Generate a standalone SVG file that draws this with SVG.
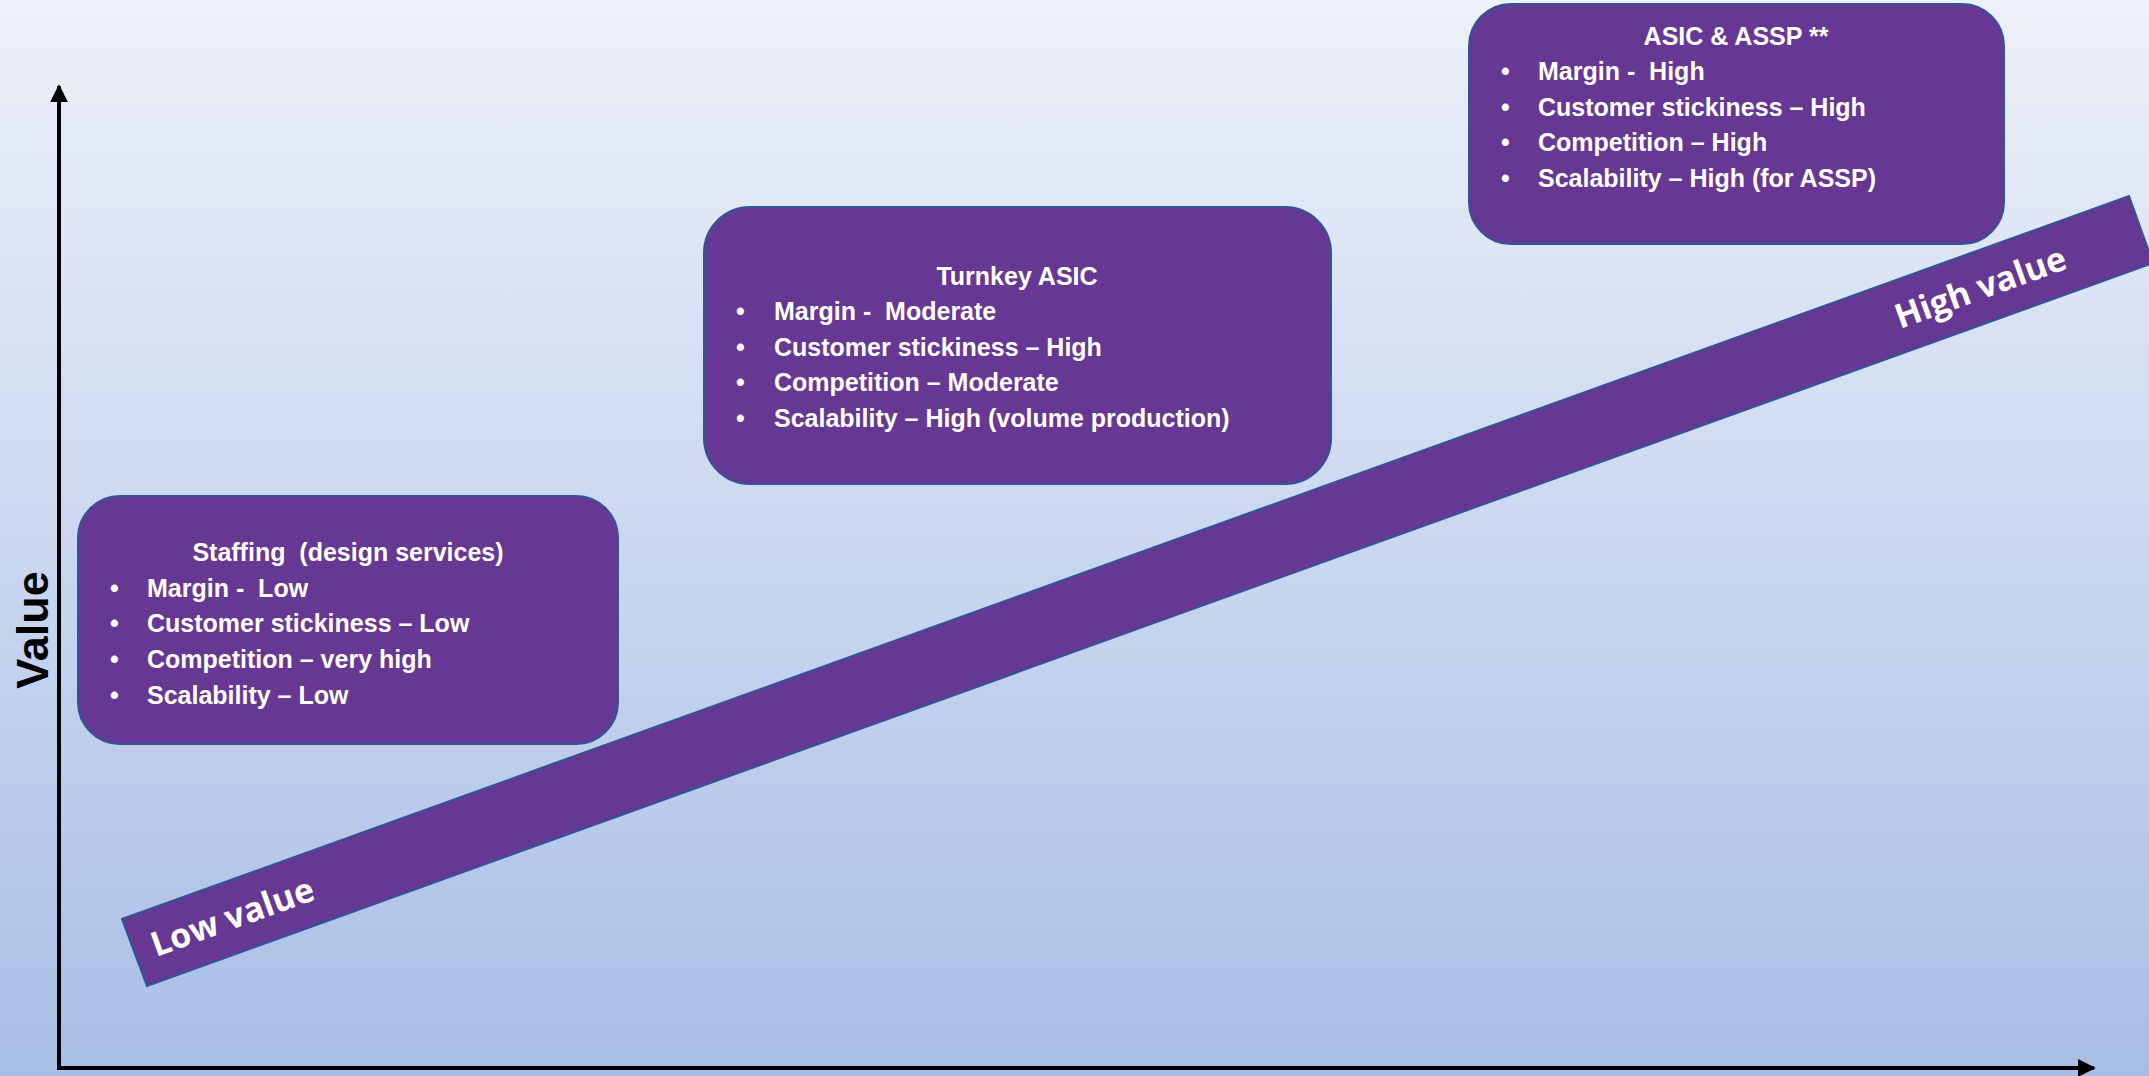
<svg xmlns="http://www.w3.org/2000/svg" width="2149" height="1076" viewBox="0 0 2149 1076">
<defs>
<linearGradient id="bg" x1="0" y1="0" x2="0" y2="1">
<stop offset="0" stop-color="#EDF1F9"/>
<stop offset="1" stop-color="#A9BEE6"/>
</linearGradient>
<marker id="arr" viewBox="0 0 10 10" refX="9" refY="5" markerWidth="4.5" markerHeight="4.5" markerUnits="strokeWidth" orient="auto">
<path d="M0,0 L10,5 L0,10 Z" fill="#000"/>
</marker>
<style>
.box{fill:#673893;stroke:#2F5597;stroke-width:2}
.t{font-family:"Liberation Sans",Arial,sans-serif;font-weight:bold;font-size:25px;fill:#fff;white-space:pre}
.ttl{text-anchor:middle}
.band{fill:#673893;stroke:#2F5597;stroke-width:2}
.bl{font-family:"Open Sans","Liberation Sans",sans-serif;font-weight:bold;font-size:34px;fill:#fff}
.ax{stroke:#000;stroke-width:4;fill:none}
</style>
</defs>
<rect width="2149" height="1076" fill="url(#bg)"/>
<g id="band">
<polygon class="band" points="122,919 2129,196 2153,263 147,986"/>
<text class="bl" transform="translate(156,957) rotate(-19.8)">Low value</text>
<text class="bl" transform="translate(1900,329) rotate(-19.8)">High value</text>
</g>
<g id="connectors">
<line class="ax" x1="59" y1="1068" x2="59" y2="86" marker-end="url(#arr)"/>
<line class="ax" x1="57" y1="1068" x2="2094" y2="1068" marker-end="url(#arr)"/>
</g>
<g id="value-label">
<text transform="translate(48,630) rotate(-90)" text-anchor="middle" font-family="Liberation Sans, Arial, sans-serif" font-weight="bold" font-size="45" fill="#000">Value</text>
</g>
<g id="staffing">
<rect class="box" x="78" y="496" width="540" height="248" rx="42"/>
<text class="t ttl" x="348" y="561">Staffing  (design services)</text>
<text class="t" x="110" y="597">•</text><text class="t" x="147" y="597">Margin -  Low</text>
<text class="t" x="110" y="632">•</text><text class="t" x="147" y="632">Customer stickiness – Low</text>
<text class="t" x="110" y="668">•</text><text class="t" x="147" y="668">Competition – very high</text>
<text class="t" x="110" y="704">•</text><text class="t" x="147" y="704">Scalability – Low</text>
</g>
<g id="turnkey">
<rect class="box" x="704" y="207" width="627" height="277" rx="46"/>
<text class="t ttl" x="1017" y="285">Turnkey ASIC</text>
<text class="t" x="736" y="320">•</text><text class="t" x="774" y="320">Margin -  Moderate</text>
<text class="t" x="736" y="356">•</text><text class="t" x="774" y="356">Customer stickiness – High</text>
<text class="t" x="736" y="391">•</text><text class="t" x="774" y="391">Competition – Moderate</text>
<text class="t" x="736" y="427">•</text><text class="t" x="774" y="427">Scalability – High (volume production)</text>
</g>
<g id="asic-assp">
<rect class="box" x="1469" y="4" width="535" height="240" rx="42"/>
<text class="t ttl" x="1736" y="45">ASIC &amp; ASSP **</text>
<text class="t" x="1501" y="80">•</text><text class="t" x="1538" y="80">Margin -  High</text>
<text class="t" x="1501" y="116">•</text><text class="t" x="1538" y="116">Customer stickiness – High</text>
<text class="t" x="1501" y="151">•</text><text class="t" x="1538" y="151">Competition – High</text>
<text class="t" x="1501" y="187">•</text><text class="t" x="1538" y="187">Scalability – High (for ASSP)</text>
</g>
</svg>
